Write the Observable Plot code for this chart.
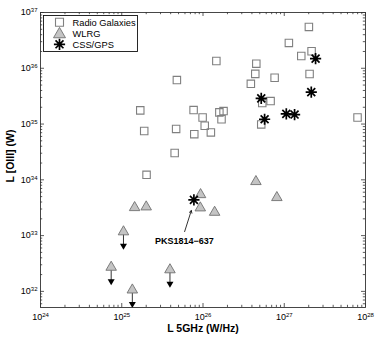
<!DOCTYPE html>
<html><head><meta charset="utf-8">
<script src="https://cdn.jsdelivr.net/npm/d3@7"></script>
<script src="https://cdn.jsdelivr.net/npm/@observablehq/plot@0.6"></script>
<style>
body{margin:0;background:#fff;}
#wrap{position:relative;width:382px;height:340px;font-family:"Liberation Sans",Arial,sans-serif;}
#legend{position:absolute;left:0;top:0;}
</style></head><body><div id="wrap"></div>
<script>
// ---- data ----
const rgX = [1.69e25,1.89e25,2.02e25,4.48e25,4.67e25,4.77e25,7.66e25,7.81e25,9.89e25,1.05e26,1.25e26,1.46e26,1.59e26,1.79e26,1.69e26,3.88e26,4.40e26,4.53e26,5.21e26,5.36e26,6.79e26,7.61e26,1.14e27,1.62e27,2.01e27,2.05e27,2.17e27,7.98e27];
const rgY = [1.76e35,7.5e34,1.23e34,3.03e34,8.17e34,6.15e35,1.78e35,6.59e34,1.31e35,9.33e34,7.07e34,1.35e36,1.62e35,1.71e35,1.22e35,5.26e35,7.94e35,1.21e36,9.84e34,2.38e35,2.58e35,6.75e35,2.85e36,1.66e36,5.51e36,7.89e35,2.02e36,1.31e35];
const wlrgX = [1.44e25,2.00e25,9.33e25,9.26e25,1.39e26,4.48e26,8.11e26];
const wlrgY = [3.18e33,3.27e33,5.43e33,3.14e33,2.62e33,9.31e33,4.81e33];
const limX = [1.05e25,7.41e24,1.35e25,3.92e25];
const limY = [1.17e33,2.71e32,1.06e32,2.44e32];
const cssX = [2.43e27,2.15e27,5.21e26,5.73e26,1.06e27,1.34e27,7.73e25];
const cssY = [1.49e36,3.74e35,2.88e35,1.22e35,1.52e35,1.48e35,4.36e33];
const xTicks = [1e24,1e25,1e26,1e27,1e28];
const yTicks = [1e32,1e33,1e34,1e35,1e36,1e37];
const xDomain = [1e24,1e28];
const yDomain = [5.14e31,1e37];
const legendLabels = ["Radio Galaxies","WLRG","CSS/GPS"];
const xLabel = "L 5GHz (W/Hz)";
const yLabel = "L [OIII] (W)";
const annLabel = "PKS1814\u2212637";
const annArrowFrom = [5.94e25,1.18e33];
const annArrowTo = [7.18e25,2.81e33];
const annTextAt = [5.9e25,7.9e32];

// ---- tables ----
const rg = rgX.map((x,i)=>({x,y:rgY[i]}));
const wlrg = wlrgX.map((x,i)=>({x,y:wlrgY[i]}));
const lim = limX.map((x,i)=>({x,y:limY[i]}));
const css = cssX.map((x,i)=>({x,y:cssY[i]}));
const allTri = wlrg.concat(lim);
const ann = [{x1:annArrowFrom[0],y1:annArrowFrom[1],x2:annArrowTo[0],y2:annArrowTo[1],tx:annTextAt[0],ty:annTextAt[1],label:annLabel}];

function minors(lo,hi){const out=[];for(let e=Math.floor(Math.log10(lo));e<Math.ceil(Math.log10(hi));e++){for(let m=2;m<=9;m++){const v=m*Math.pow(10,e);if(v>=lo&&v<=hi)out.push(v);}}return out;}
const xMinor = minors(xDomain[0],xDomain[1]);
const yMinor = minors(yDomain[0],yDomain[1]);
const yMajorIn = yTicks.filter(v=>v>=yDomain[0]&&v<=yDomain[1]);

const W=382,H=340,mL=40,mR=17,mT=12,mB=33;
const iw=W-mL-mR, ih=H-mT-mB;
const majLen=4, minLen=2.2, tickCol="#333";

const asterisk={draw(ctx,size){const r=Math.sqrt(size/Math.PI);const d=r*Math.SQRT1_2;ctx.moveTo(-r,0);ctx.lineTo(r,0);ctx.moveTo(0,-r);ctx.lineTo(0,r);ctx.moveTo(-d,-d);ctx.lineTo(d,d);ctx.moveTo(-d,d);ctx.lineTo(d,-d);}};
const shaft={draw(ctx,l){ctx.moveTo(0,0);ctx.lineTo(0,-l);}};

const font='"Liberation Sans",Arial,sans-serif';
const chart = Plot.plot({
  width:W,height:H,marginLeft:mL,marginRight:mR,marginTop:mT,marginBottom:mB,
  style:{fontFamily:font,background:"#fff",overflow:"visible"},
  x:{type:"log",domain:xDomain},
  y:{type:"log",domain:yDomain},
  marks:[
    // ticks (inward, all four sides)
    Plot.ruleX(xTicks,{x:d=>d,insetTop:ih-majLen,stroke:tickCol,strokeWidth:0.8}),
    Plot.ruleX(xMinor,{x:d=>d,insetTop:ih-minLen,stroke:tickCol,strokeWidth:0.8}),
    Plot.ruleX(xTicks,{x:d=>d,insetBottom:ih-majLen,stroke:tickCol,strokeWidth:0.8}),
    Plot.ruleX(xMinor,{x:d=>d,insetBottom:ih-minLen,stroke:tickCol,strokeWidth:0.8}),
    Plot.ruleY(yMajorIn,{y:d=>d,insetRight:iw-majLen,stroke:tickCol,strokeWidth:0.8}),
    Plot.ruleY(yMinor,{y:d=>d,insetRight:iw-minLen,stroke:tickCol,strokeWidth:0.8}),
    Plot.ruleY(yMajorIn,{y:d=>d,insetLeft:iw-majLen,stroke:tickCol,strokeWidth:0.8}),
    Plot.ruleY(yMinor,{y:d=>d,insetLeft:iw-minLen,stroke:tickCol,strokeWidth:0.8}),
    Plot.axisX(xTicks,{anchor:"bottom",tickSize:0,tickPadding:6,fontSize:9,label:null,tickFormat:d=>"10^"+Math.round(Math.log10(d))}),
    Plot.axisY(yTicks,{anchor:"left",tickSize:0,tickPadding:3,fontSize:9,label:null,tickFormat:d=>"10^"+Math.round(Math.log10(d))}),
    Plot.text([xLabel],{frameAnchor:"bottom",textAnchor:"middle",lineAnchor:"middle",dy:21.5,fontWeight:"bold",fontSize:10.5,text:d=>d}),
    Plot.text([yLabel],{frameAnchor:"left",textAnchor:"middle",lineAnchor:"middle",dx:-30,dy:-4,rotate:-90,fontWeight:"bold",fontSize:10.5,text:d=>d}),
    // data
    Plot.dot(rg,{x:"x",y:"y",symbol:"square",r:4.2,fill:"none",stroke:"#808080",strokeWidth:1.1}),
    Plot.vector(lim,{x:"x",y:"y",length:15,rotate:180,anchor:"start",shape:shaft,stroke:"black",strokeWidth:0.8}),
    Plot.dot(lim,{x:"x",y:"y",symbol:"triangle",rotate:180,r:2.6,dy:14,fill:"black",stroke:"none"}),
    Plot.dot(allTri,{x:"x",y:"y",symbol:"triangle",r:3.9,fill:"#c4c4c4",stroke:"#707070",strokeWidth:0.9}),
    Plot.dot(css,{x:"x",y:"y",symbol:asterisk,r:5.6,fill:"none",stroke:"black",strokeWidth:1.7}),
    // annotation
    Plot.arrow(ann,{x1:"x1",y1:"y1",x2:"x2",y2:"y2",stroke:"black",strokeWidth:0.8,headLength:5}),
    Plot.text(ann,{x:"tx",y:"ty",text:"label",fontWeight:"bold",fontSize:9,fill:"black"}),
    Plot.frame({stroke:"#333",strokeWidth:0.9})
  ]
});
document.getElementById("wrap").appendChild(chart);

// superscript exponents in tick labels
d3.select(chart).selectAll('g[aria-label="x-axis tick label"] text, g[aria-label="y-axis tick label"] text').each(function(){
  const s=this.textContent; const m=/^10\^(\d+)$/.exec(s); if(!m) return;
  const t=d3.select(this); t.text("10");
  t.append("tspan").attr("dy","-0.5em").attr("font-size","6").text(m[1]);
});

// legend (inside the axes, top-left)
const lg=d3.select("#wrap").append("svg").attr("id","legend").attr("width",W).attr("height",H)
  .style("pointer-events","none");
const lx=43, ly=15, lw=94, lh=36;
lg.append("rect").attr("x",lx+0.5).attr("y",ly+0.5).attr("width",lw).attr("height",lh).attr("fill","#fff").attr("stroke","#111").attr("stroke-width",0.9);
const rowY=[22.3,33.3,44.3];
lg.append("path").attr("transform",`translate(59.5,${rowY[0]})`).attr("d",d3.symbol(d3.symbolSquare,64)()).attr("fill","none").attr("stroke","#808080").attr("stroke-width",1.1);
lg.append("path").attr("transform",`translate(59.5,${rowY[1]+1})`).attr("d",d3.symbol(d3.symbolTriangle,62)()).attr("fill","#c4c4c4").attr("stroke","#707070").attr("stroke-width",0.9);
lg.append("path").attr("transform",`translate(59.5,${rowY[2]})`).attr("d",d3.symbol(asterisk,Math.PI*5.6*5.6)()).attr("fill","none").attr("stroke","black").attr("stroke-width",1.7);
legendLabels.forEach((s,i)=>{
  lg.append("text").attr("x",72.5).attr("y",rowY[i]).attr("dy","0.35em").attr("font-size",9.3).attr("font-family",font).attr("fill","#000").text(s);
});
</script></body></html>
